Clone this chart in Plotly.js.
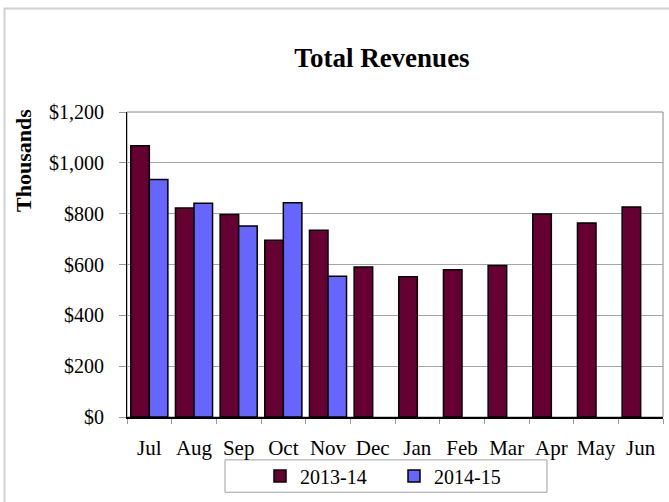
<!DOCTYPE html>
<html>
<head>
<meta charset="utf-8">
<script src="https://cdn.plot.ly/plotly-3.0.1.min.js"></script>
<style>
html,body{margin:0;padding:0;background:#fff;}
#chart{width:669px;height:502px;}
</style>
</head>
<body>
<div id="chart"></div>
<script>
const months = ["Jul","Aug","Sep","Oct","Nov","Dec","Jan","Feb","Mar","Apr","May","Jun"];
const seriesNames = ["2013-14","2014-15"];
const rev2013_14 = [1067, 822, 797, 695, 735, 590, 552, 579, 596, 799, 763, 826];
const rev2014_15 = [934, 841, 751, 843, 554];
const yTicks = [0, 200, 400, 600, 800, 1000, 1200];

const FONT = "Liberation Serif, Times New Roman, serif";
const L = 127, R = 6, T = 112, B = 82, W = 669, H = 502;
const pw = W - L - R, ph = H - T - B;
const px = x => (x - L) / pw;
const py = y => (H - B - y) / ph;

const traces = [
  {type:'bar', name:seriesNames[0], x:months, y:rev2013_14,
   marker:{color:'#660033', line:{color:'#000', width:1.5}}},
  {type:'bar', name:seriesNames[1], x:months.slice(0, rev2014_15.length), y:rev2014_15,
   marker:{color:'#6666FF', line:{color:'#000', width:1.5}}}
];

const layout = {
  width:W, height:H,
  margin:{l:L, r:R, t:T, b:B, pad:0},
  paper_bgcolor:'#fff', plot_bgcolor:'#fff',
  font:{family:FONT, color:'#000', size:20},
  barmode:'group', bargap:0.17, bargroupgap:0,
  title:{text:'<b>Total Revenues</b>', font:{family:FONT, size:27, color:'#000'},
         xref:'container', yref:'container', x:382/W, y:1-58/H, xanchor:'center', yanchor:'middle'},
  xaxis:{type:'category', categoryorder:'array', categoryarray:months,
         showgrid:false, showline:true, linecolor:'#000', linewidth:1.5,
         ticks:'outside', tickson:'boundaries', ticklen:5, tickcolor:'#999', tickwidth:1,
         tickangle:0, ticklabelstandoff:11,
         tickfont:{family:FONT, size:21, color:'#000'}, fixedrange:true},
  yaxis:{range:[0,1200], tickvals:yTicks, ticktext:yTicks.map(v => '$' + v.toLocaleString('en-US')),
         showgrid:true, gridcolor:'#a6a6a6', gridwidth:1, zeroline:false,
         showline:true, linecolor:'#000', linewidth:1,
         ticks:'outside', ticklen:7, tickcolor:'#999', tickwidth:1, ticklabelstandoff:11,
         tickfont:{family:FONT, size:20, color:'#000'}, fixedrange:true},
  showlegend:true,
  legend:{orientation:'h', x:px(260), xanchor:'left', y:py(479.5), yanchor:'middle',
          bgcolor:'rgba(0,0,0,0)', borderwidth:0, font:{family:FONT, size:20, color:'#000'},
          entrywidth:89, traceorder:'normal'},
  annotations:[
    {text:'<b>Thousands</b>', textangle:-90, xref:'paper', yref:'paper',
     x:px(23), y:py(161.5), xanchor:'center', yanchor:'middle', showarrow:false,
     font:{family:FONT, size:22, color:'#000'}}
  ],
  shapes:[
    {type:'rect', xref:'paper', yref:'paper', x0:px(4.5), x1:px(720), y0:py(7.5), y1:py(560),
     line:{color:'#d0d0d0', width:2}, fillcolor:'rgba(0,0,0,0)', layer:'below'},
    {type:'rect', xref:'paper', yref:'paper', x0:0, x1:1, y0:0, y1:1,
     line:{color:'#888', width:1}, fillcolor:'rgba(0,0,0,0)', layer:'below'},
    {type:'rect', xref:'paper', yref:'paper', x0:px(225), x1:px(547), y0:py(496), y1:py(463.3),
     line:{color:'#a0a0a0', width:1}, fillcolor:'rgba(0,0,0,0)', layer:'below'}
  ]
};

Plotly.newPlot('chart', traces, layout, {displayModeBar:false, staticPlot:true});
</script>
</body>
</html>
